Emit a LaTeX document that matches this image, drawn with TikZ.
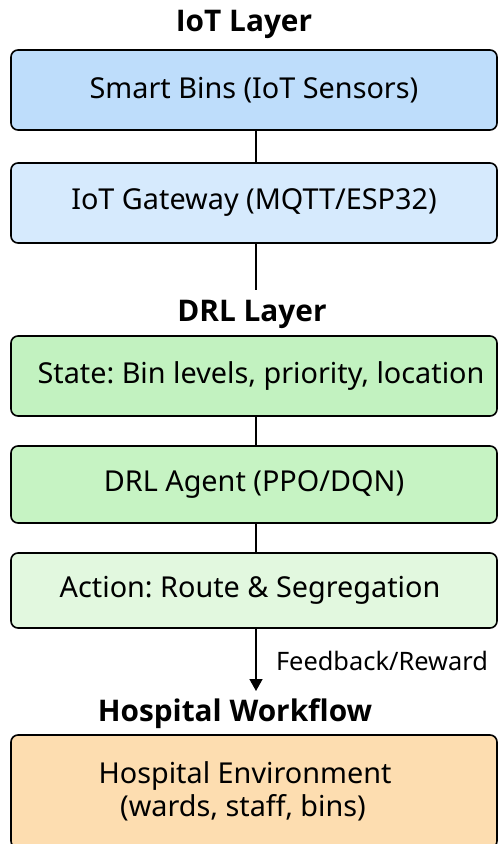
\documentclass[tikz,border=0pt]{standalone}
\usepackage{fontspec}
\setmainfont{Noto Sans}
\newfontfamily\headfont{Open Sans}
\frenchspacing
\usetikzlibrary{arrows.meta}
\definecolor{iotA}{HTML}{BEDDFB}
\definecolor{iotB}{HTML}{D6EAFD}
\definecolor{drlA}{HTML}{C2F2C0}
\definecolor{drlB}{HTML}{C6F3C3}
\definecolor{drlC}{HTML}{E2F8DF}
\definecolor{hosp}{HTML}{FDDDB0}
\begin{document}
\frenchspacing
\begin{tikzpicture}[x=1pt,y=-1pt,
  box/.style={draw=black, line width=1.6pt, rounded corners=7pt, minimum width=486pt,
    inner sep=0pt, font=\fontsize{28.8}{33}\selectfont, align=center},
  head/.style={font=\headfont\bfseries\fontsize{29.8}{32}\selectfont, inner sep=0pt},
  conn/.style={line width=1.6pt, draw=black}]
\clip (0,0) rectangle (498,844);
\fill[white] (0,0) rectangle (498,844);
\node[head] (h1) at (244,24) {IoT Layer};
\node[box, fill=iotA, minimum height=80pt] (b1) at (254,90) {\raisebox{-2pt}{Smart Bins (IoT Sensors)}};
\node[box, fill=iotB, minimum height=80pt] (b2) at (254,203) {\raisebox{-2pt}{IoT Gateway (MQTT/ESP32)}};
\node[head] (h2) at (252,314) {DRL Layer};
\node[box, fill=drlA, minimum height=80pt] (b3) at (254,376) {\hspace{14pt}\raisebox{-1pt}{State: Bin levels, priority, location}};
\node[box, fill=drlB, minimum height=77pt] (b4) at (254,484.5) {\raisebox{-1pt}{DRL Agent (PPO/DQN)}};
\node[box, fill=drlC, minimum height=75pt] (b5) at (254,590.5) {Action: Route \& Segregation\hspace{8pt}};
\node[head] (h3) at (235,714) {Hospital Workflow};
\node[box, fill=hosp, minimum height=113pt] (b6) at (254,791.5) {Hospital Environment\hspace*{18pt}\\(wards, staff, bins)\hspace*{22pt}};
\node[font=\fontsize{25.4}{28}\selectfont, inner sep=0pt] (fb) at (382,661) {Feedback/Reward};
\coordinate (e2) at (256,290);
\coordinate (tip) at (256,691);
\draw[conn] ([xshift=2pt]b1.south) -- ([xshift=2pt]b2.north);
\draw[conn] ([xshift=2pt]b2.south) -- (e2);
\draw[conn] ([xshift=2pt]b3.south) -- ([xshift=2pt]b4.north);
\draw[conn] ([xshift=2pt]b4.south) -- ([xshift=2pt]b5.north);
\draw[conn, -{Triangle[width=13pt,length=12pt]}] ([xshift=2pt]b5.south) -- (tip);
\end{tikzpicture}
\end{document}
